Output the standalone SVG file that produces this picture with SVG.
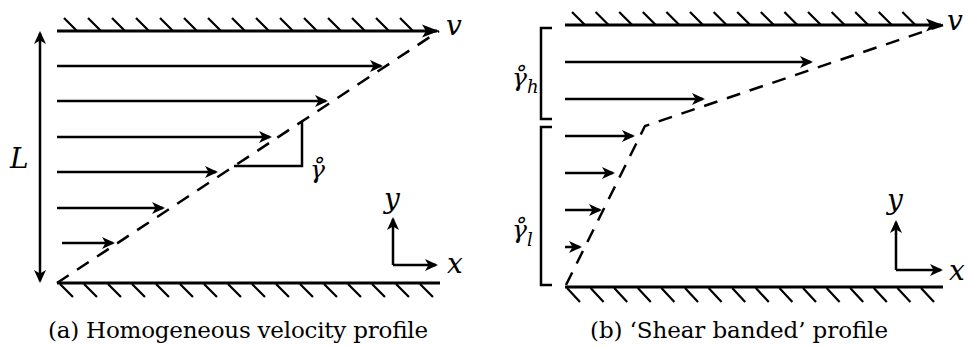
<svg xmlns="http://www.w3.org/2000/svg" width="968" height="347" viewBox="0 0 968 347">
<style>
.ln{stroke:#000;stroke-width:2.5;fill:none}
.wall{stroke:#000;stroke-width:2.8;fill:none}
.h{stroke:#000;stroke-width:2.2;fill:none}
.dash{stroke:#000;stroke-width:2.5;fill:none;stroke-dasharray:14 10}
.ar{stroke:#000;stroke-width:2.5;fill:none;marker-end:url(#ah)}
text{font-family:"DejaVu Serif",serif;fill:#000}
.m{font-style:italic;font-size:28px}
.g{font-style:italic;font-size:25px}
.cap{font-size:23px}
</style>
<defs>
<marker id="ah" markerUnits="userSpaceOnUse" markerWidth="15" markerHeight="13" refX="11" refY="6.5" orient="auto-start-reverse" overflow="visible"><path d="M13,6.5 L0,0.5 L3.5,6.5 L0,12.5 Z" fill="#000"/></marker>
<marker id="ahb" markerUnits="userSpaceOnUse" markerWidth="18" markerHeight="14" refX="15" refY="7" orient="auto" overflow="visible"><path d="M17,7 L0,0.5 L4,7 L0,13.5 Z" fill="#000"/></marker>
</defs>

<g id="panel-a">
  <g id="a-top-wall">
    <line class="wall" x1="57" y1="31" x2="437" y2="31" marker-end="url(#ahb)"/>
    <path class="h" d="M64,18 l13,13 M88,18 l13,13 M112,18 l13,13 M136,18 l13,13 M160,18 l13,13 M184,18 l13,13 M208,18 l13,13 M232,18 l13,13 M256,18 l13,13 M280,18 l13,13 M304,18 l13,13 M328,18 l13,13 M352,18 l13,13 M376,18 l13,13 M400,18 l13,13"/>
  </g>
  <g id="a-bottom-wall">
    <line class="wall" x1="57" y1="283" x2="440" y2="283"/>
    <path class="h" d="M60,284 l13,13 M84,284 l13,13 M108,284 l13,13 M132,284 l13,13 M156,284 l13,13 M180,284 l13,13 M204,284 l13,13 M228,284 l13,13 M252,284 l13,13 M276,284 l13,13 M300,284 l13,13 M324,284 l13,13 M348,284 l13,13 M372,284 l13,13 M396,284 l13,13 M420,284 l13,13"/>
  </g>
  <g id="a-connectors">
    <line class="ln" x1="40" y1="33" x2="40" y2="281" marker-start="url(#ah)" marker-end="url(#ah)"/>
    <line class="ar" x1="57" y1="66" x2="381" y2="66"/>
    <line class="ar" x1="57" y1="101" x2="326" y2="101"/>
    <line class="ar" x1="57" y1="137" x2="270" y2="137"/>
    <line class="ar" x1="57" y1="172" x2="216" y2="172"/>
    <line class="ar" x1="57" y1="208" x2="163" y2="208"/>
    <line class="ar" x1="62" y1="243" x2="113" y2="243"/>
    <line class="dash" x1="57" y1="283" x2="439" y2="31"/>
    <polyline class="ln" points="234,166 302,166 302,122"/>
    <line class="ln" x1="393" y1="265" x2="393" y2="219" marker-end="url(#ah)"/>
    <line class="ln" x1="393" y1="265" x2="436" y2="265" marker-end="url(#ah)"/>
  </g>
  <g id="a-labels">
    <text class="m" x="446" y="35">v</text>
    <text class="m" x="10" y="168">L</text>
    <text class="g" x="310" y="178">γ̊</text>
    <text class="m" x="384" y="208">y</text>
    <text class="m" x="447" y="273">x</text>
    <text class="cap" x="48" y="338" textLength="380" lengthAdjust="spacing">(a) Homogeneous velocity profile</text>
  </g>
</g>

<g id="panel-b">
  <g id="b-top-wall">
    <line class="wall" x1="565" y1="25" x2="941" y2="25" marker-end="url(#ahb)"/>
    <path class="h" d="M572,12 l13,13 M595.6,12 l13,13 M619.2,12 l13,13 M642.8,12 l13,13 M666.4,12 l13,13 M690,12 l13,13 M713.6,12 l13,13 M737.2,12 l13,13 M760.8,12 l13,13 M784.4,12 l13,13 M808,12 l13,13 M831.6,12 l13,13 M855.2,12 l13,13 M878.8,12 l13,13 M902.4,12 l13,13"/>
  </g>
  <g id="b-bottom-wall">
    <line class="wall" x1="565" y1="287" x2="943" y2="287"/>
    <path class="h" d="M567,288 l13,14 M590.6,288 l13,14 M614.2,288 l13,14 M637.8,288 l13,14 M661.4,288 l13,14 M685,288 l13,14 M708.6,288 l13,14 M732.2,288 l13,14 M755.8,288 l13,14 M779.4,288 l13,14 M803,288 l13,14 M826.6,288 l13,14 M850.2,288 l13,14 M873.8,288 l13,14 M897.4,288 l13,14 M921,288 l13,14"/>
  </g>
  <g id="b-brackets">
    <polyline class="ln" points="552,28 541,28 541,119 552,119"/>
    <polyline class="ln" points="552,127 541,127 541,285 552,285"/>
  </g>
  <g id="b-connectors">
    <line class="ar" x1="565" y1="62" x2="811" y2="62"/>
    <line class="ar" x1="565" y1="99" x2="703" y2="99"/>
    <line class="ar" x1="565" y1="136" x2="633" y2="136"/>
    <line class="ar" x1="565" y1="173" x2="613" y2="173"/>
    <line class="ar" x1="565" y1="210" x2="600" y2="210"/>
    <line class="ar" x1="565" y1="247" x2="580" y2="247"/>
    <polyline class="dash" points="566,285 645,126 943,25"/>
    <line class="ln" x1="896" y1="270" x2="896" y2="222" marker-end="url(#ah)"/>
    <line class="ln" x1="896" y1="270" x2="941" y2="270" marker-end="url(#ah)"/>
  </g>
  <g id="b-labels">
    <text class="m" x="947" y="30">v</text>
    <text class="g" x="512" y="86">γ̊<tspan font-size="18" dy="7">h</tspan></text>
    <text class="g" x="512" y="238">γ̊<tspan font-size="18" dy="8">l</tspan></text>
    <text class="m" x="887" y="209">y</text>
    <text class="m" x="949" y="280">x</text>
    <text class="cap" x="590" y="338" textLength="298" lengthAdjust="spacing">(b) ‘Shear banded’ profile</text>
  </g>
</g>
</svg>
